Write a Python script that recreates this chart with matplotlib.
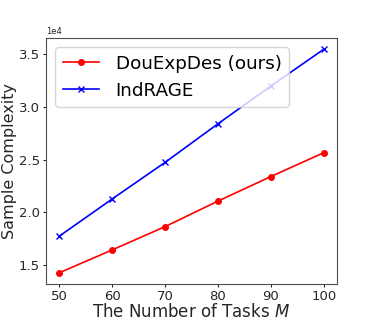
import matplotlib
matplotlib.use("Agg")
import matplotlib.pyplot as plt

# Number of tasks M
tasks = [50, 60, 70, 80, 90, 100]

# Sample complexity
douexpdes = [14270, 16440, 18650, 21070, 23400, 25660]
indrage = [17740, 21270, 24740, 28400, 31980, 35470]

fig = plt.figure(figsize=(3.74, 3.2), dpi=100)
ax = fig.add_axes([0.123, 0.1125, 0.778, 0.7685])

ax.plot(tasks, douexpdes, color='red', marker='o', markersize=4, linewidth=1.2,
        label='DouExpDes (ours)')
ax.plot(tasks, indrage, color='blue', marker='x', markersize=4.5, linewidth=1.2,
        label='IndRAGE')

ax.set_xticks(tasks)
ax.set_yticks([15000, 20000, 25000, 30000, 35000])
ax.ticklabel_format(axis='y', style='sci', scilimits=(4, 4))
ax.yaxis.get_offset_text().set_fontsize(6)
ax.tick_params(labelsize=9.5, colors='0.15', length=2.5, pad=1.8)

for s in ax.spines.values():
    s.set_color('0.3')

ax.set_xlabel('The Number of Tasks $M$', fontsize=12, color='0.15')
ax.set_ylabel('Sample Complexity', fontsize=11.5, color='0.15')
ax.xaxis.set_label_coords(0.5, -0.078)
ax.yaxis.set_label_coords(-0.1, 0.5)

ax.legend(loc='upper left', fontsize=13.2, handlelength=2.0, handletextpad=0.9,
          borderaxespad=0.5)

fig.savefig('out.png', dpi=100)
